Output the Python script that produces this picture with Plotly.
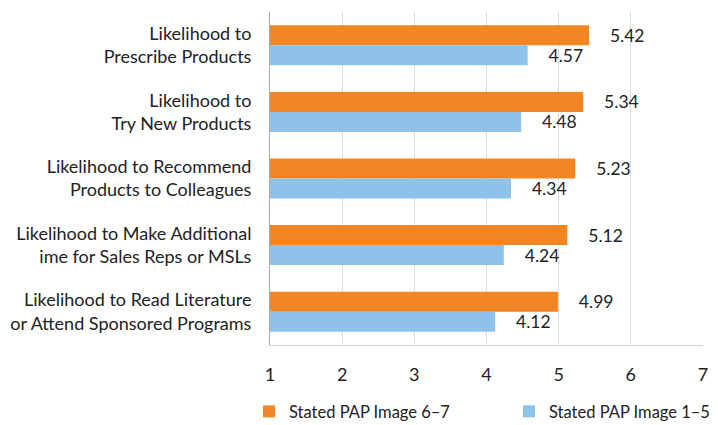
import plotly.graph_objects as go

categories = [
    "Likelihood to<br>Prescribe Products",
    "Likelihood to<br>Try New Products",
    "Likelihood to Recommend<br>Products to Colleagues",
    "Likelihood to Make Additional<br>ime for Sales Reps or MSLs",
    "Likelihood to Read Literature<br>or Attend Sponsored Programs",
]
image_6_7 = [5.42, 5.34, 5.23, 5.12, 4.99]
image_1_5 = [4.57, 4.48, 4.34, 4.24, 4.12]
x_ticks = [1, 2, 3, 4, 5, 6, 7]

FONT = "Lato"
TEXT = "#222222"
AXIS_START = 1  # bars are drawn from 1 on a 1-7 scale

fig = go.Figure()
for name, values, color, legend in [
    ("Stated PAP Image 6\u20137", image_6_7, "#F28524", "legend"),
    ("Stated PAP Image 1\u20135", image_1_5, "#8EC2E8", "legend2"),
]:
    fig.add_trace(
        go.Bar(
            y=categories,
            x=[v - AXIS_START for v in values],
            base=AXIS_START,
            orientation="h",
            name=name,
            legend=legend,
            marker_color=color,
            marker_line_width=0,
            text=[f"    {v:.2f}" for v in values],
            textposition="outside",
            constraintext="none",
            cliponaxis=False,
            textfont=dict(family=FONT, size=17.5, color=TEXT),
        )
    )

# one legend per series so both fit on a single row, spaced like the original
legend_style = dict(
    orientation="h",
    xref="container",
    xanchor="left",
    y=-0.2,
    yanchor="middle",
    font=dict(family=FONT, size=16.5, color=TEXT),
    itemwidth=30,
)

# the page body adds an 8px offset, margins are set with that in mind
fig.update_layout(
    width=718,
    height=425,
    margin=dict(l=262, r=23, t=4, b=88, autoexpand=False),
    barmode="group",
    bargap=0.4,
    bargroupgap=0,
    plot_bgcolor="white",
    paper_bgcolor="white",
    font=dict(family=FONT, size=18, color=TEXT),
    showlegend=True,
    legend=dict(legend_style, x=241 / 718),
    legend2=dict(legend_style, x=501 / 718),
)

fig.update_xaxes(
    range=[1, 7],
    tickvals=x_ticks,
    showgrid=True,
    gridcolor="#DDDDDD",
    gridwidth=1,
    zeroline=False,
    showline=True,
    linecolor="#D0D0D0",
    ticks="outside",
    ticklen=13,
    tickcolor="white",
    tickfont=dict(family=FONT, size=18, color=TEXT),
    automargin=False,
)
fig.update_yaxes(
    autorange="reversed",
    showgrid=False,
    showline=True,
    linecolor="#AAAAAA",
    ticks="outside",
    ticklen=14,
    tickcolor="white",
    tickfont=dict(family=FONT, size=18, color=TEXT),
    automargin=False,
)

fig.write_html("out.html")
